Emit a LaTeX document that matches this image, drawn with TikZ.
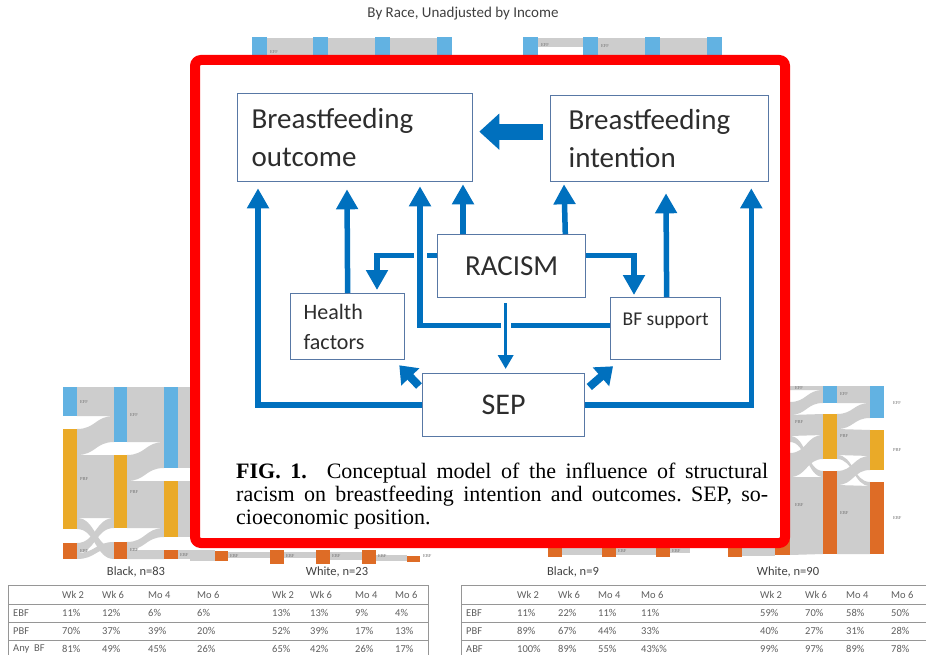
\documentclass[tikz,border=0pt]{standalone}
\usepackage{fontspec}
\setmainfont{Liberation Serif}
\newfontfamily\calib{Carlito}
\usetikzlibrary{arrows.meta,calc,positioning}
\frenchspacing

\definecolor{arrblue}{RGB}{0,112,190}
\definecolor{boxblue}{RGB}{88,120,165}
\definecolor{txtgray}{RGB}{45,45,45}
\definecolor{frred}{RGB}{255,0,0}
\definecolor{flowgray}{RGB}{205,205,205}
\definecolor{barblue}{RGB}{98,178,226}
\definecolor{barorange}{RGB}{234,170,40}
\definecolor{barred}{RGB}{222,108,38}
\definecolor{tabline}{RGB}{150,150,150}
\definecolor{tabtext}{RGB}{95,95,95}

% bande grise entre deux colonnes
\newcommand{\sflow}[6]{%
  \fill[flowgray] (#1,#2) .. controls ({(#1+#4)/2},#2) and ({(#1+#4)/2},#5) .. (#4,#5)
    -- (#4,#6) .. controls ({(#1+#4)/2},#6) and ({(#1+#4)/2},#3) .. (#1,#3) -- cycle;}

\newcommand{\bigfont}{\calib\fontsize{29}{38}\selectfont}
\newcommand{\capfont}{\fontsize{22}{23}\selectfont}

\begin{document}
\begin{tikzpicture}[x=1pt, y=-1pt,
  concept/.style={draw=boxblue, line width=1.3pt, fill=white, text=txtgray, inner sep=0pt, anchor=north west},
  link/.style={draw=arrblue, line width=5.5pt, -{Triangle[length=20pt,width=21pt]}},
  thinlink/.style={draw=arrblue, line width=3.5pt, -{Triangle[length=14pt,width=15pt]}},
  fatlink/.style={draw=arrblue, line width=8pt, -{Triangle[length=16pt,width=24pt]}},
  blocklink/.style={draw=arrblue, line width=16pt, -{Triangle[length=20pt,width=35pt]}},
  halo/.style={preaction={draw=white, line width=13pt, -}},
  sklab/.style={font=\fontsize{4.5}{5}\selectfont, text=black!55, anchor=west, inner sep=0pt},
  racelab/.style={font=\calib\fontsize{12.5}{14}\selectfont, text=black!75},
  tabtxt/.style={font=\calib\fontsize{10.5}{12}\selectfont, text=tabtext, anchor=west, inner sep=0pt}]

  \useasboundingbox (0,0) rectangle (926,655);
  \fill[white] (0,0) rectangle (926,655);

  % === Fond : diagrammes de flux ===
  \node[font=\calib\fontsize{15}{17}\selectfont, text=black!75] (title) at (463,14) {By Race, Unadjusted by Income};

  % bandes du haut
  \fill[flowgray] (252,38) rectangle (452,56);
  \fill[flowgray] (538,38) rectangle (583,47);
  \fill[flowgray] (598,38) rectangle (722,56);
  \foreach \x in {252,313,375,437,523,583,645,707}
    \fill[barblue] (\x,37) rectangle +(15,19);
  \node[sklab] (ta) at (270,52) {EFF};
  \node[sklab] (tb) at (541,45) {EFF};
  \node[sklab] (tc) at (601,46) {EFF};

  % Black, n=83
  \sflow{77}{387}{416}{114}{387}{416}
  \sflow{77}{429}{455}{114}{416}{442}
  \sflow{77}{455}{518}{114}{455}{518}
  \sflow{77}{518}{529}{114}{548}{559}
  \sflow{77}{543}{553}{114}{518}{528}
  \sflow{77}{553}{559}{114}{542}{548}
  \sflow{127}{387}{442}{164}{387}{442}
  \sflow{127}{455}{481}{164}{442}{468}
  \sflow{127}{481}{528}{164}{481}{528}
  \sflow{127}{542}{550}{164}{528}{537}
  \sflow{127}{550}{559}{164}{550}{559}
  \fill[flowgray] (178,387) rectangle (192,468);
  \fill[flowgray] (178,481) rectangle (192,537);
  \fill[flowgray] (178,550) rectangle (215,559);
  \fill[barblue] (63,387) rectangle (77,416);
  \fill[barorange] (63,429) rectangle (77,529);
  \fill[barred] (63,543) rectangle (77,559);
  \fill[barblue] (114,387) rectangle (127,442);
  \fill[barorange] (114,455) rectangle (127,528);
  \fill[barred] (114,542) rectangle (127,559);
  \fill[barblue] (164,387) rectangle (178,468);
  \fill[barorange] (164,481) rectangle (178,537);
  \fill[barred] (164,550) rectangle (178,559);
  \node[sklab] (la1) at (80,402) {EFF};
  \node[sklab] (la2) at (80,479) {PBF};
  \node[sklab] (la3) at (80,551) {EBF};
  \node[sklab] (lb1) at (130,415) {EFF};
  \node[sklab] (lb2) at (130,492) {PBF};
  \node[sklab] (lb3) at (130,550) {EBF};
  \node[sklab] (lc3) at (180,555) {EBF};

  % bas, sous le cadre
  \fill[flowgray] (190,553) rectangle (215,561);
  \fill[flowgray] (228,552) rectangle (270,558);
  \fill[flowgray] (284,552) rectangle (316,558);
  \fill[flowgray] (330,552) rectangle (362,560);
  \fill[flowgray] (376,555) rectangle (407,561);
  \fill[barred] (215,551) rectangle (228,561);
  \foreach \x in {270,316,362}
    \fill[barred] (\x,550) rectangle +(14,14);
  \fill[barred] (407,556) rectangle (420,562);
  \foreach \x [count=\i] in {230,286,332,378,423}
    \node[sklab] (bl\i) at (\x,556) {EBF};
  \fill[flowgray] (561,548) rectangle (602,555);
  \fill[flowgray] (616,548) rectangle (656,555);
  \fill[flowgray] (669,548) rectangle (690,553);
  \fill[flowgray] (742,548) rectangle (775,556);
  \foreach \x in {548,602,656,728}
    \fill[barred] (\x,548) rectangle +(14,9);
  \foreach \x [count=\i] in {618,672}
    \node[sklab] (br\i) at (\x,551) {EBF};

  % White, n=90
  \sflow{790}{386}{390}{823}{386}{390}
  \sflow{790}{402}{415}{823}{390}{403}
  \sflow{790}{415}{436}{823}{414}{435}
  \sflow{790}{436}{442}{823}{471}{477}
  \sflow{790}{453}{477}{823}{435}{459}
  \sflow{790}{477}{555}{823}{477}{554}
  \sflow{837}{386}{403}{870}{386}{403}
  \sflow{837}{414}{429}{870}{403}{418}
  \sflow{837}{429}{455}{870}{430}{456}
  \sflow{837}{455}{459}{870}{482}{486}
  \sflow{837}{471}{485}{870}{456}{470}
  \sflow{837}{485}{554}{870}{486}{554}
  \fill[barblue] (775,386) rectangle (790,390);
  \fill[barorange] (775,402) rectangle (790,442);
  \fill[barred] (775,453) rectangle (790,555);
  \fill[barblue] (823,386) rectangle (837,403);
  \fill[barorange] (823,414) rectangle (837,459);
  \fill[barred] (823,471) rectangle (837,554);
  \fill[barblue] (870,386) rectangle (884,418);
  \fill[barorange] (870,430) rectangle (884,470);
  \fill[barred] (870,482) rectangle (884,554);
  \node[sklab] (ra1) at (795,388) {EFF};
  \node[sklab] (ra2) at (795,422) {PBF};
  \node[sklab] (ra3) at (795,505) {EBF};
  \node[sklab] (rb1) at (840,394) {EFF};
  \node[sklab] (rb2) at (840,436) {PBF};
  \node[sklab] (rb3) at (840,513) {EBF};
  \node[sklab] (rc1) at (893,403) {EFF};
  \node[sklab] (rc2) at (893,450) {PBF};
  \node[sklab] (rc3) at (893,518) {EBF};

  \node[racelab] (black83) at (136,572) {Black, n=83};
  \node[racelab] (white23) at (337,572) {White, n=23};
  \node[racelab] (black9) at (573,572) {Black, n=9};
  \node[racelab] (white90) at (788,572) {White, n=90};

  % === Tableaux ===
  \draw[tabline, line width=1pt] (8,660) |- (428,585) -- (428,660);
  \draw[tabline, line width=1pt] (461,660) |- (926,585);
  \foreach \y in {604,622,640} {
    \draw[tabline] (8,\y) -- (428,\y);
    \draw[tabline] (461,\y) -- (926,\y);
  }

  \foreach \x/\t [count=\i] in {62/Wk 2,102/Wk 6,148/Mo 4,197/Mo 6,272/Wk 2,310/Wk 6,355/Mo 4,395/Mo 6}
    \node[tabtxt] (lh\i) at (\x,595) {\t};
  \foreach \lab/\vals [count=\r] in {{EBF}/{11\%,12\%,6\%,6\%,13\%,13\%,9\%,4\%},
                                     {PBF}/{70\%,37\%,39\%,20\%,52\%,39\%,17\%,13\%},
                                     {Any\ \ BF}/{81\%,49\%,45\%,26\%,65\%,42\%,26\%,17\%}} {
    \node[tabtxt] (ll\r) at (13,{595+18*\r}) {\lab};
    \foreach \v [count=\c] in \vals {
      \pgfmathsetmacro\xx{{62,102,148,197,272,310,355,395}[\c-1]}
      \node[tabtxt] (lv\r-\c) at (\xx,{595+18*\r}) {\v};
    }
  }

  \foreach \x/\t [count=\i] in {517/Wk 2,558/Wk 6,598/Mo 4,641/Mo 6,760/Wk 2,805/Wk 6,846/Mo 4,891/Mo 6}
    \node[tabtxt] (rh\i) at (\x,595) {\t};
  \foreach \lab/\vals [count=\r] in {{EBF}/{11\%,22\%,11\%,11\%,59\%,70\%,58\%,50\%},
                                     {PBF}/{89\%,67\%,44\%,33\%,40\%,27\%,31\%,28\%},
                                     {ABF}/{100\%,89\%,55\%,43\%\%,99\%,97\%,89\%,78\%}} {
    \node[tabtxt] (rl\r) at (466,{595+18*\r}) {\lab};
    \foreach \v [count=\c] in \vals {
      \pgfmathsetmacro\xx{{517,558,598,641,760,805,846,891}[\c-1]}
      \node[tabtxt] (rv\r-\c) at (\xx,{595+18*\r}) {\v};
    }
  }

  % === Cadre rouge ===
  \fill[white, rounded corners=6] (195,60) rectangle (785,543);
  \draw[frred, line width=10pt, rounded corners=6] (195,60) rectangle (785,543);

  % === Boîtes du modèle ===
  \node[concept, minimum width=235pt, minimum height=88pt, text width=207pt, inner xsep=14pt,
        align=left, font=\bigfont] (outcome) at (237,93) {Breastfeeding\\outcome};
  \node[concept, minimum width=218pt, minimum height=86pt, text width=182pt, inner xsep=18pt,
        align=left, font=\bigfont] (intention) at (550,95) {Breastfeeding\\intention};
  \node[concept, minimum width=148pt, minimum height=63pt,
        font=\calib\fontsize{29}{34}\selectfont] (racism) at (437,234) {RACISM};
  \node[concept, minimum width=114pt, minimum height=66pt, text width=88pt, inner xsep=13pt,
        align=left, font=\calib\fontsize{22}{30}\selectfont] (health) at (290,293) {Health\\factors};
  \node[concept, minimum width=110pt, text height=28pt, text depth=34pt,
        font=\calib\fontsize{19.5}{22}\selectfont] (support) at (610,297) {BF support};
  \node[concept, minimum width=162pt, minimum height=63pt,
        font=\calib\fontsize{30}{34}\selectfont] (sep) at (422,373) {SEP};

  % === Flèches ===
  \draw[link] (sep.west) -| ($(outcome.south west)+(21,6)$);
  \draw[link] (sep.east) -| ($(intention.south east)+(-18,6)$);
  \draw[link] (health.north) -- ($(outcome.south west)+(110,7)$);
  \draw[link] ([yshift=10.5pt]racism.west) -| ($(health.north west)+(87,-3)$);
  \draw[link, halo] ([yshift=3pt]support.west) -| ($(outcome.south west)+(183,4)$);
  \draw[link] ($(racism.north west)+(26,0)$) -- ($(outcome.south west)+(226,2)$);
  \draw[link] ($(racism.north east)+(-21,0)$) -- ($(intention.south west)+(14,2)$);
  \draw[link] ([yshift=10.5pt]racism.east) -| ($(support.north west)+(24,-2)$);
  \draw[link] ($(support.north)+(1,0)$) -- ($(intention.south west)+(116,11)$);
  \draw[thinlink, preaction={draw=white, line width=10pt, -}] ($(racism.south)+(-6,5)$) -- ($(sep.north)+(2,-4)$);
  \draw[fatlink] ($(sep.north west)+(-3,13)$) -- ($(health.south east)+(-6,5)$);
  \draw[fatlink] ($(sep.north east)+(4,14)$) -- ($(support.south west)+(3,6)$);
  \draw[blocklink] ($(intention.west)+(-7,-7)$) -- ($(outcome.east)+(6,-6)$);

  % === Légende ===
  \node[anchor=base west, inner sep=0pt, font=\capfont] (cap1) at (236,478)
    {\makebox[532pt][s]{\textbf{FIG. 1.}\hspace{0.9em}Conceptual model of the influence of structural}};
  \node[anchor=base west, inner sep=0pt, font=\capfont] (cap2) at (236,501)
    {\makebox[532pt][s]{racism on breastfeeding intention and outcomes. SEP, so-}};
  \node[anchor=base west, inner sep=0pt, font=\capfont] (cap3) at (236,524) {cioeconomic position.};

\end{tikzpicture}
\end{document}
